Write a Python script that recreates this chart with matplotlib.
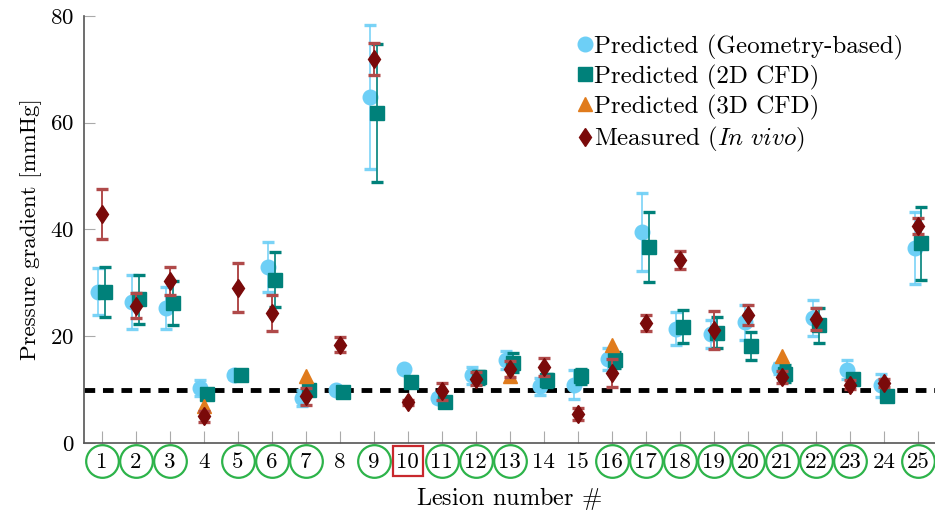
import numpy as np
import matplotlib

matplotlib.use("Agg")
import matplotlib.pyplot as plt
import matplotlib.transforms as mtransforms

plt.rcParams["font.family"] = "serif"
plt.rcParams["font.serif"] = ["cmr10", "DejaVu Serif"]
plt.rcParams["mathtext.fontset"] = "cm"
plt.rcParams["axes.formatter.use_mathtext"] = True

lesions = np.arange(1, 26)
geo = [28.3, 26.4, 25.3, 10.3, 12.7, 32.9, 8.5, 10.0, 64.9, 13.8, 8.4, 12.7, 15.5,
       10.6, 10.9, 15.7, 39.6, 21.4, 20.4, 22.6, 14.0, 23.4, 13.7, 10.8, 36.5]
geo_err = [4.4, 5.0, 3.9, 1.5, 0.8, 4.7, 1.5, 0, 13.5, 0, 0.8, 1.6, 1.7,
           1.6, 2.7, 2.1, 7.3, 3.1, 2.7, 3.3, 1.0, 3.3, 1.8, 2.2, 6.8]
cfd2 = [28.3, 26.9, 26.2, 9.2, 12.7, 30.6, 10.0, 9.5, 61.8, 11.5, 7.6, 12.3, 15.0,
        11.7, 12.5, 15.6, 36.7, 21.8, 20.6, 18.1, 13.0, 22.0, 12.0, 8.7, 37.4]
cfd2_err = [4.7, 4.6, 4.2, 0.5, 0.8, 5.2, 0.8, 0, 13.0, 0, 0.5, 1.2, 1.8,
            1.3, 1.4, 1.5, 6.6, 3.1, 2.9, 2.6, 1.6, 3.3, 1.0, 0.5, 6.8]
cfd3_lesions = [4, 7, 13, 16, 21]
cfd3 = [7.0, 12.6, 12.5, 18.4, 16.3]
meas = [42.9, 25.7, 30.4, 5.0, 29.1, 24.3, 8.7, 18.4, 71.9, 7.6, 9.7, 12.0, 13.8,
        14.2, 5.4, 13.1, 22.5, 34.3, 21.2, 24.0, 12.3, 23.2, 10.9, 11.2, 40.7]
meas_err = [4.7, 2.3, 2.6, 1.0, 4.6, 3.4, 1.6, 1.4, 3.0, 0.5, 1.6, 1.2, 1.5,
            1.7, 1.2, 2.7, 1.5, 1.7, 3.6, 1.9, 1.1, 2.0, 0.8, 0.8, 1.5]
circled = [1, 2, 3, 5, 6, 7, 9, 11, 12, 13, 16, 17, 18, 19, 20, 21, 22, 23, 25]
boxed = [10]
threshold = 10

C_GEO = "#6dcff6"
C_2D = "#00817a"
C_3D = "#e07b1c"
C_MEAS = "#7a0a0a"

fig = plt.figure(figsize=(9.35, 5.15), dpi=100)
ax = fig.add_axes([0.0898, 0.14, 0.9102, 0.829])

off = 0.1
ax.errorbar(lesions - off, geo, yerr=geo_err, fmt="none", ecolor=C_GEO,
            elinewidth=1.2, capsize=4.5, capthick=2.4, alpha=0.9)
ax.plot(lesions - off, geo, "o", color=C_GEO, markersize=10.5, label="Predicted (Geometry-based)")
ax.errorbar(lesions + off, cfd2, yerr=cfd2_err, fmt="none", ecolor=C_2D,
            elinewidth=1.2, capsize=4.5, capthick=2.4)
ax.plot(lesions + off, cfd2, "s", color=C_2D, markersize=9.5, label="Predicted (2D CFD)")
ax.plot(cfd3_lesions, cfd3, "^", color=C_3D, markersize=10.5, label="Predicted (3D CFD)")
eb = ax.errorbar(lesions, meas, yerr=meas_err, fmt="none", ecolor="#b04a4a",
                 elinewidth=1.4, capsize=4.5, capthick=2.4)
for cap in eb[1]:
    cap.set_color(C_MEAS)
ax.plot(lesions, meas, "d", color=C_MEAS, markersize=9.5, label=r"Measured ($\mathit{In\ vivo}$)")

ax.axhline(threshold, color="black", linestyle=(0, (2.2, 1.6)), linewidth=3.5, zorder=1)

ax.set_xlim(0.48, 25.5)
ax.set_ylim(0, 80)
ax.set_yticks([0, 20, 40, 60, 80])
ax.set_xticks(lesions)
ax.set_xticklabels([str(n) for n in lesions], fontsize=16.5)
ax.tick_params(axis="y", labelsize=16.5, direction="in", length=8, color="#aaaaaa", pad=7)
ax.tick_params(axis="x", direction="in", length=9, color="#aaaaaa", pad=7)
for s in ["top", "right"]:
    ax.spines[s].set_visible(False)
for s in ["left", "bottom"]:
    ax.spines[s].set_color("#555555")
    ax.spines[s].set_linewidth(1.2)

# rings and box around the tick labels
trans = mtransforms.blended_transform_factory(ax.transData, ax.transAxes)
ax.plot(circled, [-0.043] * len(circled), "o", markersize=23.5, markerfacecolor="none",
        markeredgecolor="#2db34a", markeredgewidth=1.6, transform=trans, clip_on=False)
ax.plot(boxed, [-0.043] * len(boxed), "s", markersize=22, markerfacecolor="none",
        markeredgecolor="#c8282d", markeredgewidth=1.6, transform=trans, clip_on=False)

ax.set_ylabel("Pressure gradient [mmHg]", fontsize=16.5, labelpad=6)
ax.set_xlabel(r"Lesion number $\#$", fontsize=17.5, labelpad=9)

ax.legend(loc="upper right", bbox_to_anchor=(0.975, 0.98), frameon=False, fontsize=18,
          handlelength=0.55, handletextpad=0.1, labelspacing=0.2, borderaxespad=0)

fig.savefig("out.png", dpi=100)
